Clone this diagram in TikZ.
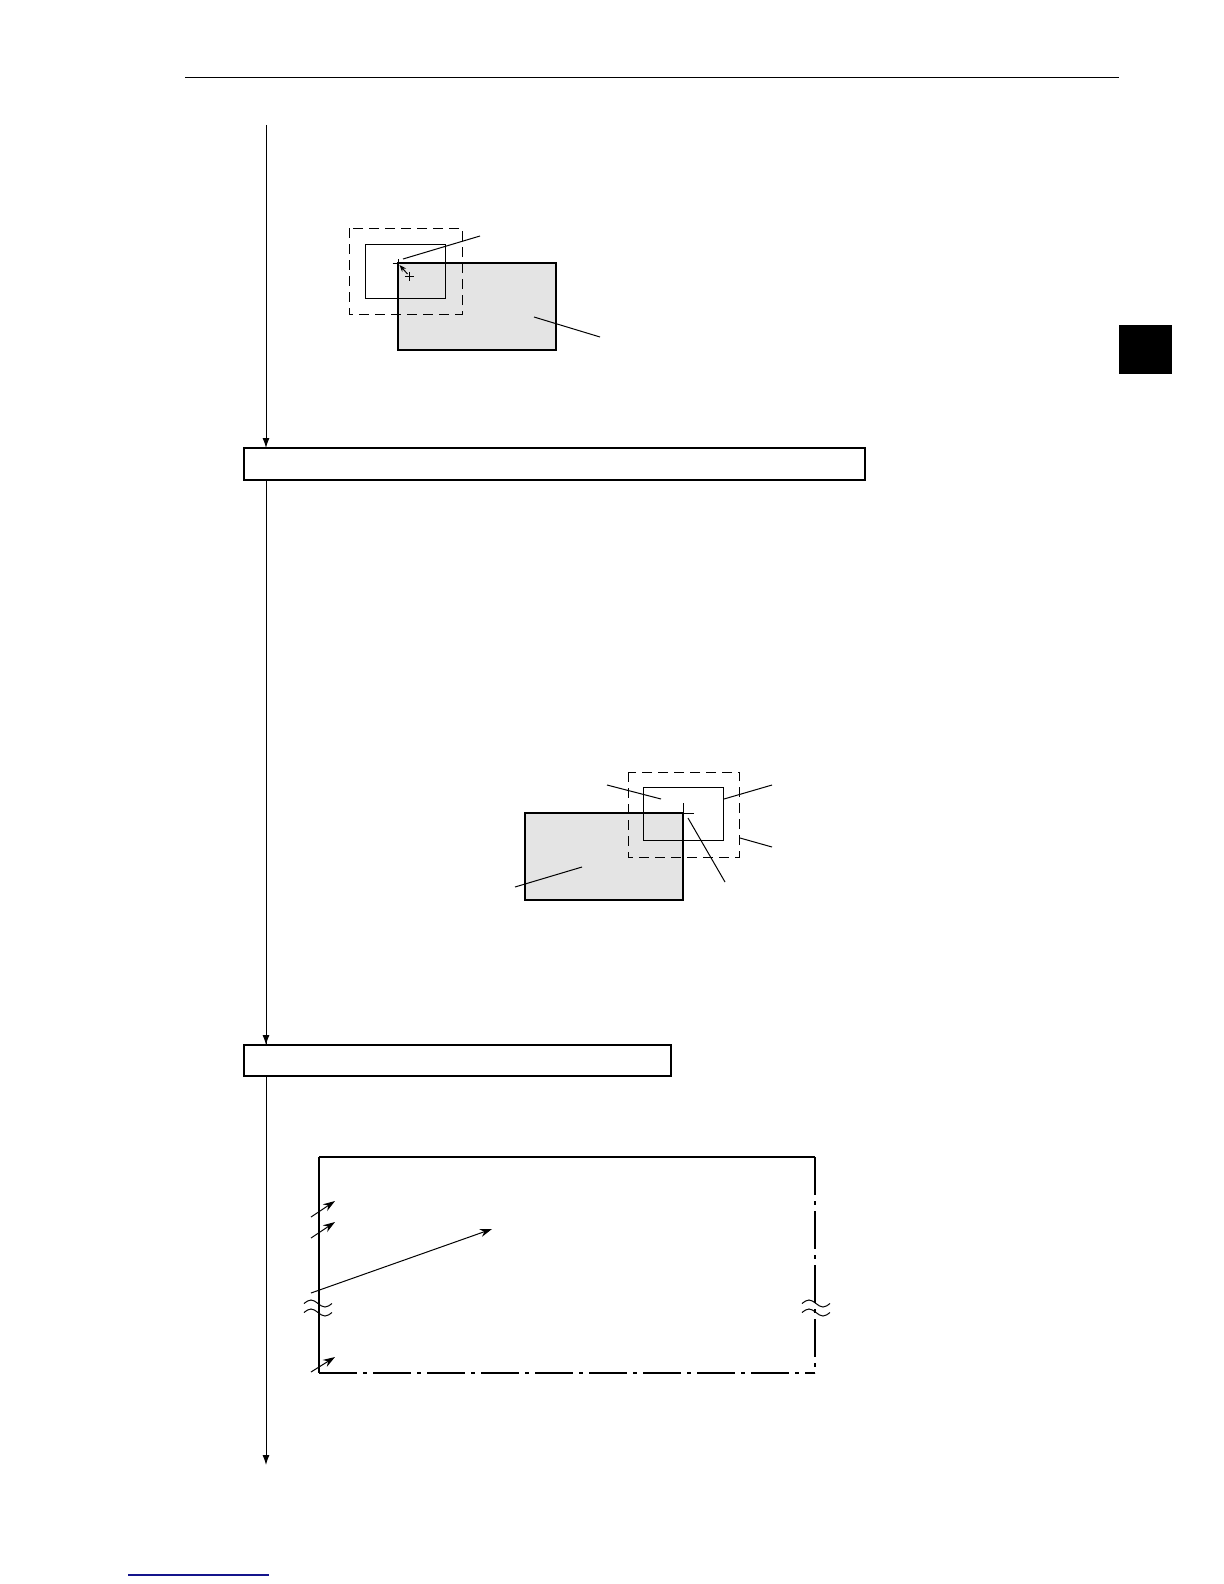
\documentclass[tikz,border=0pt]{standalone}
\usetikzlibrary{arrows.meta}
\usetikzlibrary{calc}
\usetikzlibrary{positioning}

\definecolor{areagray}{RGB}{228,228,228}
\definecolor{linkblue}{RGB}{20,20,140}

\newcommand{\breakmark}[1]{%
  \foreach \dy in {-4.5,4.5} {
    \draw[line width=0.5pt] ($(#1)+(-14,\dy)$) sin ++(7,-3.5) cos ++(7,3.5) sin ++(7,3.5) cos ++(7,-3.5);
  }}

\begin{document}
\begin{tikzpicture}[
    x=0.5pt, y=-0.5pt,
    arrowtip/.style={
      -{Latex[length=5pt,width=3.5pt]}
    },
    leadtip/.style={
      -{Stealth[length=6pt,width=4pt]}
    },
    stepbox/.style={draw, line width=0.6pt, inner sep=0pt, outer sep=0pt},
    flow/.style={line width=0.5pt},
    search/.style={dash pattern=on 5pt off 3pt, line width=0.5pt},
    target/.style={draw, line width=1.3pt, fill=areagray},
    chain/.style={dash pattern=on 19pt off 3pt on 2pt off 3pt, line width=0.6pt},
    lead/.style={line width=0.5pt}
  ]
    \useasboundingbox (0,0) rectangle (1224,1584);

    % page
    \draw[line width=0.5pt] (185,78) -- (1119,78);
    \fill (1119,325) rectangle (1172,374);
    \draw[linkblue, line width=0.6pt] (128,1575) -- (269,1575);

    % flow
    \node[stepbox, minimum width=310.5pt, minimum height=16pt] (SA) at (554.5,464) {};
    \node[stepbox, minimum width=213.5pt, minimum height=15.5pt] (SB) at (457.5,1060.5) {};

    \coordinate (TOP) at (266,125);
    \coordinate (END) at (266,1465);

    \draw[flow,arrowtip] (TOP)         -- (TOP |- SA.north);
    \draw[flow]          (TOP |- SA.south) -- (TOP |- SB.north);
    \draw[flow,arrowtip] ($(TOP |- SB.north)+(0,-20)$) -- (TOP |- SB.north);
    \draw[flow,arrowtip] (TOP |- SB.south) -- (END);

    % first area
    \coordinate (GA) at (398,263);
    \draw[target] (GA) rectangle (556,350);
    \draw[search] (349,228) rectangle (462,314);
    \draw[line width=0.5pt] (365,244) rectangle (445,298);
    \draw[line width=0.5pt] ($(GA)+(-5.5,0)$) -- (GA) -- ($(GA)+(0,-4.5)$);
    \coordinate (CA) at (409.5,276);
    \draw[line width=0.5pt] ($(CA)+(-4.5,0)$) -- ($(CA)+(4.5,0)$)
                            ($(CA)+(0,-4.5)$) -- ($(CA)+(0,4.5)$);
    \draw[line width=0.5pt, -{Stealth[length=3.5pt,width=2.6pt]}] ($(CA)+(-2,-2)$) -- ($(GA)+(1.5,2)$);
    \draw[lead] (403,259) -- (480,236);
    \draw[lead] (534,317) -- (600,337);

    % second area
    \coordinate (GB) at (683,813);
    \draw[target] (525,813) rectangle (GB |- 0,900);
    \draw[search] (628,772) rectangle (739,857);
    \draw[line width=0.5pt] (643,787) rectangle (723,840);
    \draw[line width=0.5pt] ($(GB)+(11,0)$) -- (GB) -- ($(GB)+(0,-10)$);
    \draw[lead] (607,785) -- (661,799);
    \draw[lead] (724,799) -- (772,785);
    \draw[lead] (740,838) -- (772,847);
    \draw[lead] (688,818) -- (725,882);
    \draw[lead] (515,887) -- (582,867);

    % screen
    \coordinate (SL) at (319,1157);
    \coordinate (SR) at (815,1157);
    \coordinate (BL) at (319,1373);
    \coordinate (BR) at (815,1373);
    \draw[line width=1pt] (SL) -- (SR);
    \draw[line width=0.6pt] (SL) -- (BL);
    \draw[chain] (SR) -- (BR);
    \draw[chain] (BL) -- (BR);
    \breakmark{318,1308}
    \breakmark{816,1308}

    \draw[lead,leadtip] (311,1217) -- (335,1201);
    \draw[lead,leadtip] (311,1238) -- (335,1222);
    \draw[lead,leadtip] (311,1293) -- (492,1229);
    \draw[lead,leadtip] (311,1372) -- (335,1357);
  \end{tikzpicture}
\end{document}
